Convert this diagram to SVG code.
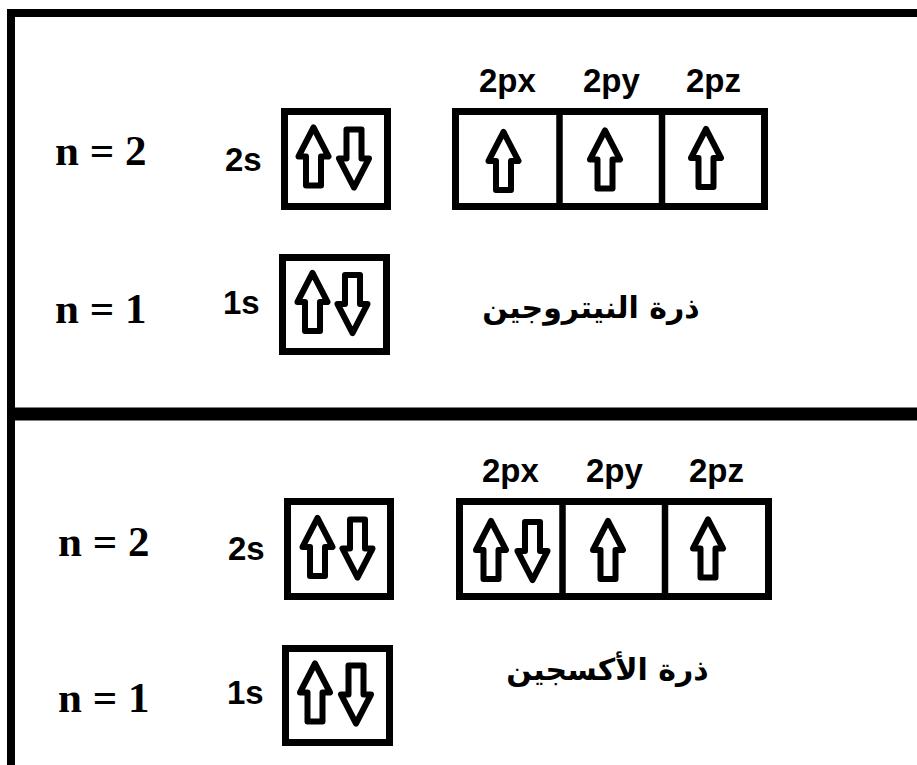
<svg xmlns="http://www.w3.org/2000/svg" xmlns:xlink="http://www.w3.org/1999/xlink" width="917" height="765" viewBox="0 0 917 765">
<style>
.box{fill:none;stroke:#000;stroke-width:7}
.div{stroke:#000;stroke-width:6.5}
.arr{fill:#fff;stroke:#000;stroke-width:6;stroke-linejoin:round}
.n{font-family:"Liberation Serif","Times New Roman",serif;font-weight:bold;font-size:43px;fill:#000}
.lab{font-family:"Liberation Sans",Arial,sans-serif;font-weight:bold;font-size:33px;fill:#000}
.ar{font-family:"DejaVu Sans",sans-serif;font-weight:bold;font-size:30px;fill:#000;text-anchor:middle}
</style>
<defs>
<path id="up" class="arr" d="M0,-29 L15,0 L7.5,0 L7.5,29 L-7.5,29 L-7.5,0 L-15,0 Z"/>
</defs>
<rect width="917" height="765" fill="#fff"/>
<g id="frame" stroke="#000" fill="none">
<line x1="7" y1="13" x2="917" y2="13" stroke-width="8"/>
<line x1="11" y1="9" x2="11" y2="765" stroke-width="8"/>
<line x1="7" y1="414" x2="917" y2="414" stroke-width="13"/>
</g>
<g id="nitrogen">
<text class="n" x="55" y="165">n = 2</text>
<text class="n" x="55" y="323">n = 1</text>
<g id="n-2s">
<text class="lab" x="225" y="171">2s</text>
<rect class="box" x="284.5" y="111.5" width="103" height="95"/>
<use xlink:href="#up" x="313.5" y="156.5"/>
<use xlink:href="#up" transform="translate(354,158.5) rotate(180)"/>
</g>
<g id="n-1s">
<text class="lab" x="223" y="314">1s</text>
<rect class="box" x="282.5" y="257.5" width="104" height="94"/>
<use xlink:href="#up" x="312.5" y="302"/>
<use xlink:href="#up" transform="translate(352.5,304) rotate(180)"/>
</g>
<g id="n-2p">
<text class="lab" x="479" y="92">2px</text>
<text class="lab" x="583" y="92">2py</text>
<text class="lab" x="686" y="92">2pz</text>
<rect class="box" x="455.5" y="111.5" width="309" height="95"/>
<line class="div" x1="559.5" y1="111" x2="559.5" y2="207"/>
<line class="div" x1="662" y1="111" x2="662" y2="207"/>
<use xlink:href="#up" x="503.5" y="161"/>
<use xlink:href="#up" x="605" y="159.5"/>
<use xlink:href="#up" x="706" y="158"/>
</g>
<text class="ar" x="591" y="318">ذرة النيتروجين</text>
</g>
<g id="oxygen">
<text class="n" x="58" y="556">n = 2</text>
<text class="n" x="58" y="712">n = 1</text>
<g id="o-2s">
<text class="lab" x="228" y="560">2s</text>
<rect class="box" x="287.5" y="501.5" width="103" height="95"/>
<use xlink:href="#up" x="317.5" y="547"/>
<use xlink:href="#up" transform="translate(357.5,548.5) rotate(180)"/>
</g>
<g id="o-1s">
<text class="lab" x="227" y="704">1s</text>
<rect class="box" x="285.5" y="648.5" width="104" height="94"/>
<use xlink:href="#up" x="315" y="692.5"/>
<use xlink:href="#up" transform="translate(356,694.5) rotate(180)"/>
</g>
<g id="o-2p">
<text class="lab" x="482" y="482">2px</text>
<text class="lab" x="586" y="482">2py</text>
<text class="lab" x="689" y="482">2pz</text>
<rect class="box" x="459.5" y="501.5" width="309" height="95"/>
<line class="div" x1="562.5" y1="501" x2="562.5" y2="597"/>
<line class="div" x1="665" y1="501" x2="665" y2="597"/>
<use xlink:href="#up" x="491" y="550"/>
<use xlink:href="#up" transform="translate(532.5,551) rotate(180)"/>
<use xlink:href="#up" x="608" y="550"/>
<use xlink:href="#up" x="708" y="548.5"/>
</g>
<text class="ar" x="607.5" y="680">ذرة الأكسجين</text>
</g>
</svg>
